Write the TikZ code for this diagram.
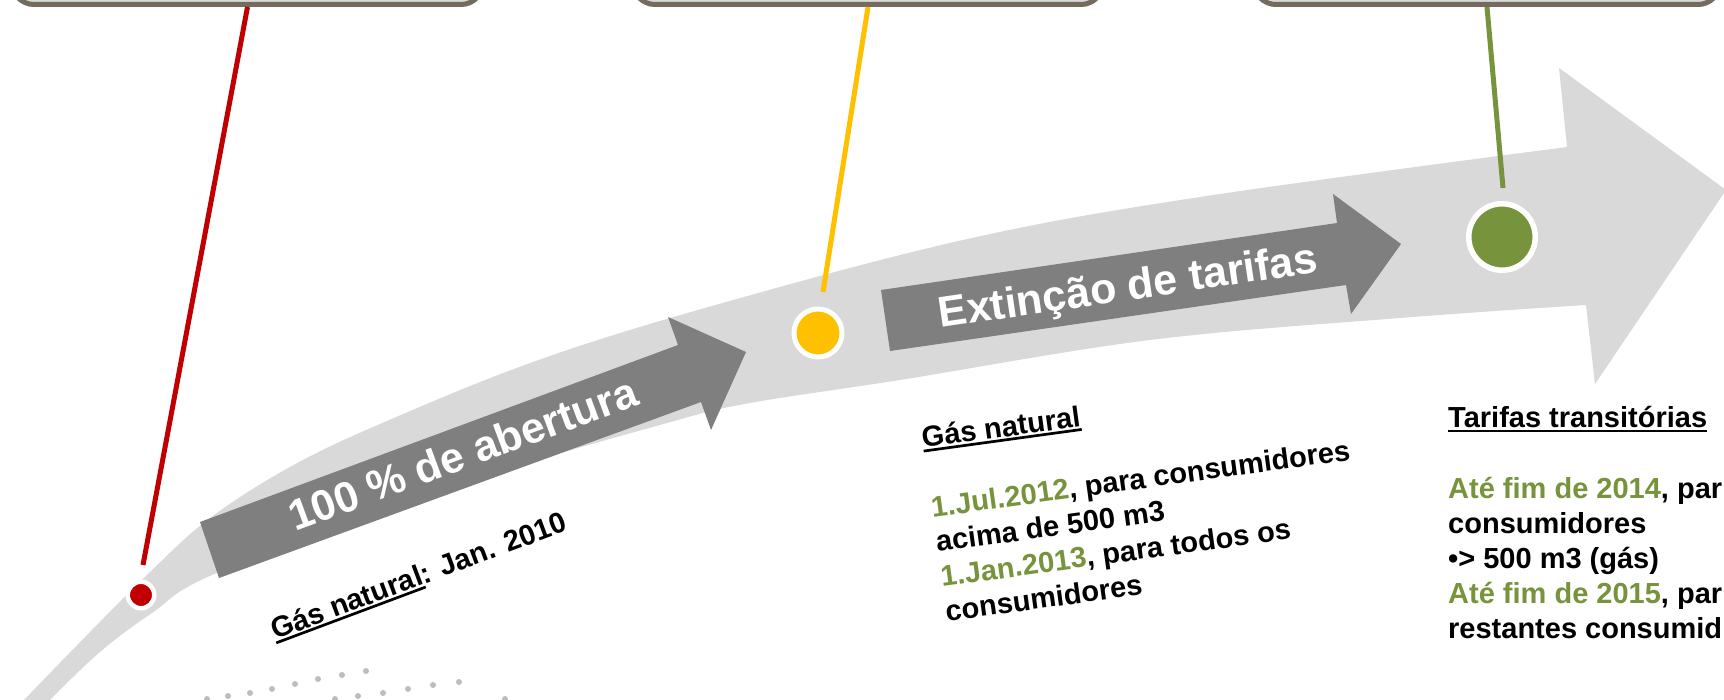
\documentclass[tikz,border=0pt]{standalone}
\usepackage{fontspec}
\setmainfont{Liberation Sans}
\definecolor{redc}{HTML}{C00000}
\definecolor{yelc}{HTML}{FFC000}
\definecolor{grnc}{HTML}{77933C}
\definecolor{swooshc}{HTML}{D9D9D9}
\definecolor{darkarrc}{HTML}{7F7F7F}
\definecolor{boxc}{HTML}{746A5E}
\definecolor{faintc}{HTML}{BDBDBD}
\newcommand\undl[1]{\setbox0\hbox{#1}\rlap{\rule[-4.5pt]{\wd0}{2.7pt}}\box0}
\tikzset{
  topbox/.style={draw=boxc, line width=5pt, fill=gray!30, rounded corners=22pt, minimum height=120pt, anchor=south, inner sep=0},
  conn/.style={line width=5pt},
  tdot/.style={circle, draw=white, inner sep=0},
  lbl/.style={font=\bfseries\fontsize{29}{35}\selectfont, inner sep=0, anchor=base west},
  arrtxt/.style={font=\bfseries\fontsize{43}{50}\selectfont, text=white, inner sep=0, anchor=base},
  faintdot/.style={fill=faintc}
}
\begin{document}
\begin{tikzpicture}[x=1pt,y=-1pt]
\useasboundingbox (0,0) rectangle (1724,700);
\clip (0,0) rectangle (1724,700);
\fill[white] (0,0) rectangle (1724,700);

% big light swoosh arrow
\fill[swooshc] plot[smooth, tension=0.6] coordinates {(10,715) (24,700) (90,632) (150,572) (210,518) (290,467) (380,424) (533,362) (705,308) (963,240) (1200,197) (1567,147)}
  -- (1559,68) -- (1726,190) -- (1595,384) -- (1586,305)
  -- plot[smooth, tension=0.6] coordinates {(1586,305) (1400,318) (1150,340) (900,380) (750,403) (667,423) (450,487) (219,572) (152,613) (100,652) (50,700) (38,715)}
  -- cycle;

% dark arrows
\fill[darkarrc] (200,522) -- (678,345) -- (668,317) -- (746,352) -- (711,430) -- (701,402) -- (219,578) -- cycle;
\fill[darkarrc] (881,290) -- (1337,223) -- (1333,194) -- (1401,244) -- (1351,314) -- (1346,285) -- (890,351) -- cycle;
\node[arrtxt, rotate=20.3] (t1) at (468,468) {100 \% de abertura};
\node[arrtxt, rotate=8.4] (t2) at (1130,300) {Extinção de tarifas};

% faint dots
\foreach \p in {(207,699),(228,696),(250,693),(272,689),(295,684),(318,679),(342,675),(366,671),(335,699),(358,696),(383,693),(408,689),(433,685),(459,682),(505,699)}
  \fill[faintdot] \p circle (3);

% top boxes
\node[topbox, minimum width=471pt] (b1) at (247.5,7) {};
\node[topbox, minimum width=470pt] (b2) at (868,7) {};
\node[topbox, minimum width=466pt] (b3) at (1487,7) {};

% dots
\node[tdot, fill=redc, line width=4.5pt, minimum size=26.5pt] (d1) at (141,595) {};
\node[tdot, fill=yelc, line width=5pt, minimum size=48pt] (d2) at (818,333) {};
\node[tdot, fill=grnc, line width=5.5pt, minimum size=66.5pt] (d3) at (1502,237) {};

% connector ends
\coordinate (e1) at (143,565);
\coordinate (e2) at (823,292);
\coordinate (e3) at (1503,188);
\draw[conn, redc] (b1.south) -- (e1);
\draw[conn, yelc] (b2.south) -- (e2);
\draw[conn, grnc] (b3.south) -- (e3);

% texts
\node[lbl, rotate=20.5] (g0) at (275,640) {\undl{Gás natural}: Jan. 2010};

\begin{scope}[shift={(923,448)}, rotate=7.8]
  \node[lbl, rotate=7.8] (m0) at (0,0) {\undl{Gás natural}};
  \node[lbl, rotate=7.8] (m2) at (0,70) {\textcolor{grnc}{1.Jul.2012}, para consumidores};
  \node[lbl, rotate=7.8] (m3) at (0,105) {acima de 500 m3};
  \node[lbl, rotate=7.8] (m4) at (0,140) {\textcolor{grnc}{1.Jan.2013}, para todos os};
  \node[lbl, rotate=7.8] (m5) at (0,175) {consumidores};
\end{scope}

\node[lbl] (r0) at (1448,428) {\undl{Tarifas transitórias}};
\node[lbl] (r2) at (1448,498) {\textcolor{grnc}{Até fim de 2014}, par};
\node[lbl] (r3) at (1448,533) {consumidores};
\node[lbl] (r4) at (1448,568) {•> 500 m3 (gás)};
\node[lbl] (r5) at (1448,603) {\textcolor{grnc}{Até fim de 2015}, par};
\node[lbl] (r6) at (1448,638) {restantes consumid};
\end{tikzpicture}
\end{document}
